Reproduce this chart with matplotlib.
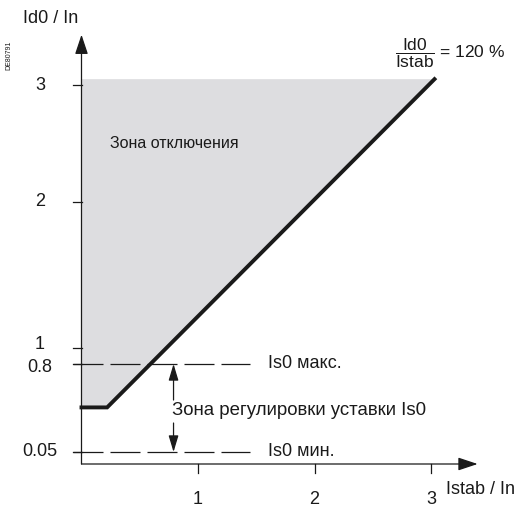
import numpy as np
import matplotlib
matplotlib.use('Agg')
import matplotlib.pyplot as plt

plt.rcParams['font.family'] = ['Liberation Sans', 'DejaVu Sans']
plt.rcParams['mathtext.fontset'] = 'custom'
plt.rcParams['mathtext.rm'] = 'Liberation Sans'

# ---- data (schematic)
curve_x = [0.0, 0.22, 3.03]          # Istab / In
curve_y = [0.43, 0.43, 3.05]         # Id0 / In
zone_top = 3.05
is0_max = 0.8
is0_min = 0.05
y_ticks = [0.05, 0.8, 1, 2, 3]
y_ticklabels = ['0.05', '0.8', '1', '2', '3']
x_ticks = [1, 2, 3]
x_ticklabels = ['1', '2', '3']
ratio_text = '120 %'

# ---- schematic y scale (the drawing is not linear in y)
W, H = 518, 507
knot_vals = np.array([-0.2, 0.0, 0.05, 0.8, 1.0, 2.0, 3.0, 3.8])
knot_pix = H - np.array([512, 464, 452, 364, 348, 202, 85, -8.6])


def fwd(y):
    return np.interp(y, knot_vals, knot_pix)


def inv(h):
    return np.interp(h, knot_pix, knot_vals)


fig = plt.figure(figsize=(W / 100, H / 100), dpi=100)
ax = fig.add_axes([0, 0, 1, 1])
ax.set_yscale('function', functions=(fwd, inv))
ax.set_xlim(-81.5 / 116.5, (W - 81.5) / 116.5)
ax.set_ylim(inv(0), inv(H))
ax.axis('off')

ink = '#1a1a1a'

# trip zone
ax.fill([0, curve_x[-1]] + curve_x[::-1][1:],
        [zone_top, zone_top] + curve_y[::-1][1:],
        color='#dddde0', lw=0, zorder=1)
ax.plot(curve_x, curve_y, color=ink, lw=2.8, solid_joinstyle='miter', zorder=4)

# axes with arrows
arr = dict(arrowstyle='-|>,head_length=0.6,head_width=0.2', color=ink, lw=0.9,
           mutation_scale=20, shrinkA=0, shrinkB=0)
ax.annotate('', xy=(0, 3.43), xytext=(0, 0), arrowprops=arr, zorder=5)
ax.annotate('', xy=(3.40, 0), xytext=(0, 0), arrowprops=arr, zorder=5)

label_shift = {'1': 2.5, '0.8': -2.5}
for t, lab in zip(y_ticks, y_ticklabels):
    ax.plot([-0.07, 0], [t, t], color=ink, lw=0.9, zorder=5)
    ax.annotate(lab, (-0.356, t), xytext=(0, label_shift.get(lab, 0)),
                textcoords='offset points', ha='center', va='center',
                fontsize=13, color=ink)
for t, lab in zip(x_ticks, x_ticklabels):
    ax.plot([t, t], [0, -0.0375], color=ink, lw=0.9, zorder=5)
    ax.text(t, -0.15, lab, ha='center', va='center', fontsize=13, color=ink)

ax.text(-0.262, 3.57, 'Id0 / In', ha='center', va='center', fontsize=13, color=ink)
ax.text(3.13, -0.105, 'Istab / In', ha='left', va='center', fontsize=13, color=ink)
ax.text(-0.623, 3.25, 'DE80791', rotation=90, ha='center', va='center',
        fontsize=5, color=ink)

# Is0 setting limits
for lvl, lab in [(is0_max, 'Is0 макс.'), (is0_min, 'Is0 мин.')]:
    ax.plot([-0.07, 1.45], [lvl, lvl], color=ink, lw=0.9, dashes=(24, 5.6), zorder=3)
    ax.text(1.60, lvl, lab, ha='left', va='center', fontsize=13, color=ink)

arr2 = dict(arrowstyle='-|>,head_length=0.5,head_width=0.15', color=ink, lw=0.9,
            mutation_scale=20, shrinkA=0, shrinkB=0)
ax.annotate('', xy=(0.79, is0_max), xytext=(0.79, 0.493), arrowprops=arr2, zorder=5)
ax.annotate('', xy=(0.79, is0_min), xytext=(0.79, 0.297), arrowprops=arr2, zorder=5)
ax.text(0.777, 0.40, 'Зона регулировки уставки Is0', ha='left', va='center',
        fontsize=13.4, color=ink)

ax.text(0.245, 2.5, 'Зона отключения', ha='left', va='center', fontsize=11.5,
        color=ink)

ax.text(2.69, 3.27, r'$\dfrac{\mathrm{Id0}}{\mathrm{Istab}}$ = ' + ratio_text,
        ha='left', va='center', fontsize=12.5, color=ink)

fig.savefig('out.png', dpi=100)
